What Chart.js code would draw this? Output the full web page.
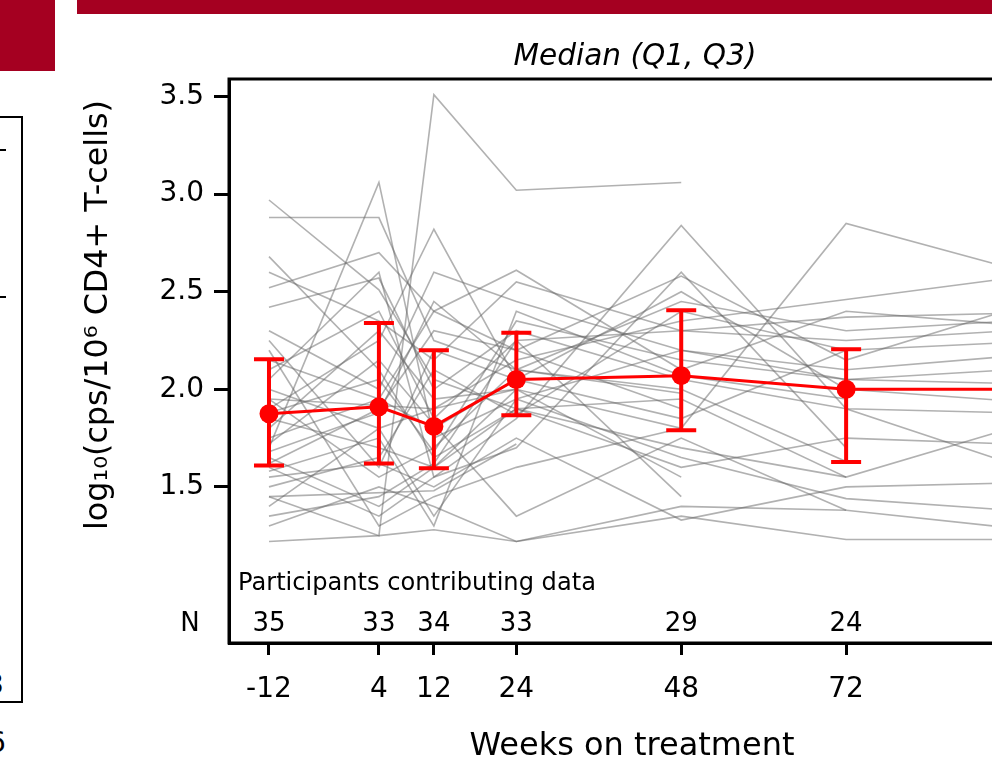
<!DOCTYPE html>
<html><head><meta charset="utf-8">
<script src="https://cdn.jsdelivr.net/npm/chart.js@4.4.1/dist/chart.umd.min.js"></script>
<style>
html,body{margin:0;padding:0;background:#fff;overflow:hidden;width:992px;height:762px;}
#wrap{position:absolute;left:0;top:0;width:1100px;height:762px;}
.red{position:absolute;background:#A50021;}
.frag{position:absolute;font-family:'DejaVu Sans';font-size:28px;color:#000;line-height:34px;}
</style></head><body>
<div class="red" style="left:77px;top:0;width:915px;height:14px"></div>
<div class="red" style="left:0;top:0;width:55px;height:71px"></div>
<div style="position:absolute;left:-3px;top:116px;width:22px;height:583px;border:2px solid #000;"></div>
<div style="position:absolute;left:0;top:149px;width:6px;height:2px;background:#000"></div>
<div style="position:absolute;left:0;top:296px;width:6px;height:2px;background:#000"></div>
<div class="frag" style="left:-14px;top:668px;">3</div>
<div class="frag" style="left:-12px;top:726px;">6</div>
<div id="wrap"><canvas id="c" width="1100" height="762"></canvas></div>
<script>
// ---- data ----
const weeks = [-12, 4, 12, 24, 48, 72, 96];
const weekTickLabels = ['-12', '4', '12', '24', '48', '72', '96'];
const yTickValues = [1.5, 2.0, 2.5, 3.0, 3.5];
const medianVals = [1.875, 1.91, 1.81, 2.05, 2.07, 2.00, 2.00];
const q1Vals = [1.61, 1.62, 1.595, 1.867, 1.79, 1.628, null];
const q3Vals = [2.154, 2.34, 2.20, 2.29, 2.405, 2.205, null];
const nCounts = [35, 33, 34, 33, 29, 24, null];
const nLabel = 'N';
const nHeader = 'Participants contributing data';
const plotTitle = 'Median (Q1, Q3)';
const xTitle = 'Weeks on treatment';
const yTitle = 'log\u2081\u2080(cps/10\u2076 CD4+ T-cells)';
// individual participant trajectories (values at weeks -12,4,12,24,48,72,96)
const participantValues = [
  [1.45, 1.25, 3.51, 3.02, 3.06, null, null],
  [2.97, 2.51, 2.05, 1.90, 1.70, 1.55, null],
  [2.88, 2.88, 2.25, 2.10, 2.45, 2.30, 2.35],
  [1.70, 3.06, 1.75, 1.95, 2.20, 2.05, 2.10],
  [2.52, 2.70, 2.40, 2.20, 2.58, 2.15, 2.41],
  [2.68, 2.10, 1.65, 1.90, 1.60, 1.75, 1.72],
  [1.90, 2.25, 2.82, 2.05, 1.85, 2.20, 2.24],
  [2.42, 2.57, 2.00, 2.30, 2.05, 1.90, 1.88],
  [2.15, 1.95, 2.40, 2.61, 2.10, 2.40, 2.33],
  [1.22, 1.25, 1.28, 1.22, 1.35, 1.23, 1.23],
  [1.30, 1.50, 1.40, 1.22, 1.40, 1.38, 1.29],
  [1.60, 1.35, 1.55, 1.85, 2.84, 1.90, 1.62],
  [1.85, 1.70, 1.60, 2.00, 1.80, 2.85, 2.62],
  [2.00, 1.80, 1.90, 2.15, 2.35, 2.46, 2.57],
  [1.55, 1.62, 1.50, 1.75, 1.33, 1.50, 1.52],
  [1.75, 1.95, 1.80, 2.05, 2.50, 2.00, 1.94],
  [2.10, 2.40, 1.85, 2.25, 2.30, 2.37, 2.39],
  [1.65, 1.40, 1.60, 1.90, 1.95, 1.55, 1.80],
  [1.95, 1.55, 1.70, 2.10, 2.00, 1.63, null],
  [1.40, 1.80, 1.35, 1.95, 1.65, 1.44, 1.38],
  [2.30, 2.00, 2.60, 2.45, 2.20, 2.10, 2.17],
  [1.80, 2.30, 1.95, 2.00, 1.55, null, null],
  [1.50, 1.65, 2.10, 1.87, 2.40, 2.20, null],
  [2.20, 1.30, 1.45, 1.60, 1.80, null, null],
  [1.88, 2.05, 1.68, 2.35, 2.15, 2.05, 2.03],
  [1.62, 1.90, 2.30, 2.20, 1.90, null, null],
  [2.05, 2.60, 1.55, 1.70, 2.60, 1.70, null],
  [1.35, 1.45, 1.62, 2.25, 1.45, null, null],
  [2.25, 1.60, 2.20, 2.05, null, null, null],
  [1.72, 2.15, 1.82, 1.35, 1.75, 1.38, null],
  [1.58, 1.75, 1.30, 2.40, 2.07, 1.95, null],
  [2.60, 2.35, 2.15, 2.55, 2.30, 2.25, 2.30],
  [1.95, null, 1.90, 2.00, null, null, null],
  [1.68, 1.88, 2.45, 2.10, 1.98, null, null],
  [1.45, null, 1.48, 1.72, null, null, null]
];

// ---- chart ----
const FONT = "'DejaVu Sans'";
function fitSize(ctx, text, targetW, style) {
  ctx.font = `${style} 100px ${FONT}`;
  return 100 * targetW / ctx.measureText(text).width;
}

const greySets = participantValues.map(p => ({
  type: 'line',
  data: weeks.map((w, i) => ({ x: w, y: p[i] })),
  borderColor: 'rgba(100,100,100,0.5)',
  borderWidth: 1.6,
  pointRadius: 0,
  spanGaps: true,
  order: 2
}));

const medianSet = {
  type: 'line',
  data: weeks.map((w, i) => ({ x: w, y: medianVals[i] })),
  borderColor: '#FF0000',
  backgroundColor: '#FF0000',
  borderWidth: 3,
  pointRadius: 9.5,
  pointBorderWidth: 0,
  order: 1
};

const decor = {
  id: 'decor',
  afterDatasetsDraw(chart) {
    const { ctx, scales: { x, y } } = chart;
    ctx.save();
    ctx.strokeStyle = '#FF0000';
    ctx.lineWidth = 4;
    weeks.forEach((w, i) => {
      if (q1Vals[i] == null || q3Vals[i] == null) return;
      const px = x.getPixelForValue(w);
      const p1 = y.getPixelForValue(q1Vals[i]);
      const p3 = y.getPixelForValue(q3Vals[i]);
      ctx.beginPath();
      ctx.moveTo(px, p1); ctx.lineTo(px, p3);
      ctx.moveTo(px - 15, p1); ctx.lineTo(px + 15, p1);
      ctx.moveTo(px - 15, p3); ctx.lineTo(px + 15, p3);
      ctx.stroke();
    });
    ctx.restore();
  },
  afterDraw(chart) {
    const { ctx, chartArea: a, scales: { x } } = chart;
    ctx.save();
    // frame
    ctx.strokeStyle = '#000';
    ctx.lineWidth = 3;
    ctx.strokeRect(a.left, a.top, a.right - a.left, a.bottom - a.top);
    ctx.fillStyle = '#000';
    ctx.textBaseline = 'middle';
    // title
    ctx.textAlign = 'center';
    let s = fitSize(ctx, plotTitle, 243, 'italic');
    ctx.font = `italic ${s}px ${FONT}`;
    ctx.fillText(plotTitle, 635, 57);
    // x title
    s = fitSize(ctx, xTitle, 325, '');
    ctx.font = `${s}px ${FONT}`;
    ctx.fillText(xTitle, 632, 747);
    // N row
    ctx.font = `26px ${FONT}`;
    weeks.forEach((w, i) => {
      if (nCounts[i] == null) return;
      ctx.fillText(String(nCounts[i]), x.getPixelForValue(w), 624);
    });
    ctx.fillText(nLabel, 190, 624);
    ctx.textAlign = 'left';
    s = fitSize(ctx, nHeader, 358, '');
    ctx.font = `${s}px ${FONT}`;
    ctx.fillText(nHeader, 238, 584);
    // y title
    s = fitSize(ctx, yTitle, 430, '');
    ctx.translate(99, 315);
    ctx.rotate(-Math.PI / 2);
    ctx.textAlign = 'center';
    ctx.font = `${s}px ${FONT}`;
    ctx.fillText(yTitle, 0, 0);
    ctx.restore();
  }
};

new Chart(document.getElementById('c'), {
  type: 'line',
  data: { datasets: [medianSet, ...greySets] },
  options: {
    responsive: false,
    animation: false,
    events: [],
    layout: { padding: { left: 0, top: 79, right: 49, bottom: 0 } },
    plugins: { legend: { display: false }, title: { display: false }, tooltip: { enabled: false } },
    scales: {
      x: {
        type: 'linear',
        min: -17.82,
        max: 101.82,
        afterBuildTicks: sc => { sc.ticks = weeks.map(v => ({ value: v })); },
        afterFit: sc => { sc.height = 119; },
        ticks: {
          autoSkip: false,
          maxRotation: 0,
          padding: 18,
          color: '#000',
          font: { family: 'DejaVu Sans', size: 28 },
          callback: (v) => { const i = weeks.indexOf(v); return i >= 0 ? weekTickLabels[i] : ''; }
        },
        grid: { drawOnChartArea: false, drawTicks: true, tickLength: 12, color: '#000', lineWidth: 3 },
        border: { display: true, color: '#000', width: 3 }
      },
      y: {
        type: 'linear',
        min: 0.7,
        max: 3.59,
        afterBuildTicks: sc => { sc.ticks = yTickValues.map(v => ({ value: v })); },
        afterFit: sc => { sc.width = 229; },
        ticks: {
          autoSkip: false,
          padding: 10,
          color: '#000',
          font: { family: 'DejaVu Sans', size: 28 },
          callback: v => v.toFixed(1)
        },
        grid: { drawOnChartArea: false, drawTicks: true, tickLength: 15, color: '#000', lineWidth: 3 },
        border: { display: true, color: '#000', width: 3 }
      }
    }
  },
  plugins: [decor]
});
</script>
</body></html>
